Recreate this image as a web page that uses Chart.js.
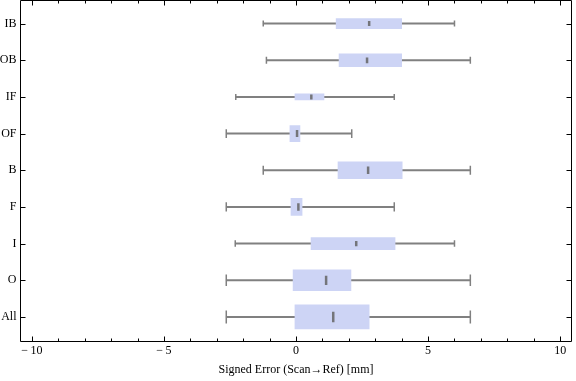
<!DOCTYPE html>
<html><head><meta charset="utf-8">
<script src="https://cdn.jsdelivr.net/npm/chart.js@4/dist/chart.umd.min.js"></script>
<style>html,body{margin:0;padding:0;background:#fff}</style>
</head><body>
<canvas id="c" width="576" height="381"></canvas>
<script>
// ---- data (top to bottom) ----
const categories    = ['IB', 'OB', 'IF', 'OF', 'B', 'F', 'I', 'O', 'All'];
const whiskerLow    = [-1.24, -1.12, -2.28, -2.64, -1.24, -2.64, -2.30, -2.64, -2.64];
const lowerQuartile = [ 1.52,  1.63, -0.04, -0.23,  1.59, -0.19,  0.57, -0.11, -0.04];
const medians       = [ 2.77,  2.69,  0.58,  0.04,  2.73,  0.09,  2.28,  1.14,  1.41];
const upperQuartile = [ 4.00,  4.00,  1.06,  0.15,  4.02,  0.23,  3.75,  2.08,  2.77];
const whiskerHigh   = [ 6.00,  6.60,  3.72,  2.11,  6.60,  3.72,  6.00,  6.60,  6.60];
const xTickValues   = [-10, -5, 0, 5, 10];
const xTitle = 'Signed Error (Scan\u2192Ref) [mm]';

// ---- styling ----
const boxThickness = [10, 13, 6, 16, 17, 17, 12, 21, 24];
const boxColor = '#CDD4F5';
const whiskerColor = '#808080';
const medianColor = 'rgba(100,100,100,0.85)';
const FONT = {family: "'Liberation Serif', 'DejaVu Serif', serif", size: 12};

const n = categories.length;
const pos = i => n - i;

const datasets = [];
// median markers (drawn on top)
datasets.push({
  type: 'scatter',
  data: categories.map((c, i) => ({x: medians[i], y: pos(i)})),
  pointStyle: 'line',
  pointRotation: 90,
  pointRadius: boxThickness.map(t => Math.max(2.5, t * 0.22)),
  pointBorderWidth: 2.5,
  pointBorderColor: medianColor,
  pointBackgroundColor: medianColor,
  pointHoverRadius: 0
});
// boxes, one dataset each so thickness can differ
categories.forEach((c, i) => {
  datasets.push({
    type: 'bar',
    data: [{x: [lowerQuartile[i], upperQuartile[i]], y: pos(i)}],
    backgroundColor: boxColor,
    borderWidth: 0,
    barThickness: boxThickness[i],
    grouped: false
  });
});
// whisker caps
const capData = [], capRadius = [];
categories.forEach((c, i) => {
  capData.push({x: whiskerLow[i], y: pos(i)}, {x: whiskerHigh[i], y: pos(i)});
  const r = Math.max(3, boxThickness[i] * 0.27);
  capRadius.push(r, r);
});
datasets.push({
  type: 'scatter',
  data: capData,
  pointStyle: 'line',
  pointRotation: 90,
  pointRadius: capRadius,
  pointBorderWidth: 1.5,
  pointBorderColor: whiskerColor,
  pointHoverRadius: 0
});
// whisker lines
datasets.push({
  type: 'bar',
  data: categories.map((c, i) => ({x: [whiskerLow[i], whiskerHigh[i]], y: pos(i)})),
  backgroundColor: whiskerColor,
  borderWidth: 0,
  barThickness: 1.3,
  grouped: false
});

const framePlugin = {
  id: 'frame',
  afterDatasetsDraw(chart) {
    const {ctx, chartArea: a, scales: {x, y}} = chart;
    ctx.save();
    ctx.strokeStyle = '#000';
    ctx.lineWidth = 1;
    ctx.beginPath();
    ctx.rect(a.left, a.top, a.right - a.left, a.bottom - a.top);
    for (let v = Math.ceil(x.min); v <= Math.floor(x.max); v++) {
      const px = Math.round(x.getPixelForValue(v)) + 0.5;
      const L = v % 5 === 0 ? 5 : 3;
      ctx.moveTo(px, a.bottom); ctx.lineTo(px, a.bottom - L);
      ctx.moveTo(px, a.top); ctx.lineTo(px, a.top + L);
    }
    categories.forEach((c, i) => {
      const py = Math.round(y.getPixelForValue(pos(i))) + 0.5;
      ctx.moveTo(a.left, py); ctx.lineTo(a.left + 5, py);
      ctx.moveTo(a.right, py); ctx.lineTo(a.right - 5, py);
    });
    ctx.stroke();
    ctx.restore();
  }
};

const noPad = () => ({left: 0, top: 0, right: 0, bottom: 0});

new Chart(document.getElementById('c'), {
  type: 'bar',
  data: {datasets},
  plugins: [framePlugin],
  options: {
    indexAxis: 'y',
    responsive: false,
    animation: false,
    devicePixelRatio: 1,
    layout: {autoPadding: false, padding: {top: 0.5, right: 4.5, left: 0, bottom: 0}},
    plugins: {legend: {display: false}, tooltip: {enabled: false}},
    scales: {
      x: {
        type: 'linear',
        offset: false,
        min: -10.43, max: 10.43,
        afterBuildTicks: s => { s.ticks = xTickValues.map(v => ({value: v})); },
        afterFit: s => { s.height = 39.5; s.paddingLeft = 0; s.paddingRight = 0; s.getPadding = noPad; },
        ticks: {
          callback: v => v < 0 ? '\u2212\u2009' + Math.abs(v) : String(v),
          font: FONT, color: '#000', padding: 2, maxRotation: 0, autoSkip: false
        },
        grid: {display: false, drawTicks: false, offset: false},
        border: {display: false},
        title: {display: true, text: xTitle, font: FONT, color: '#000', padding: {top: 0, bottom: 4}}
      },
      y: {
        type: 'linear',
        offset: false,
        min: 0.33, max: 9.63,
        afterBuildTicks: s => { s.ticks = categories.map((c, i) => ({value: pos(i)})); },
        afterFit: s => { s.width = 20.5; s.paddingTop = 0; s.paddingBottom = 0; s.getPadding = noPad; },
        ticks: {
          callback: v => categories[n - v],
          font: FONT, color: '#000', padding: 4, autoSkip: false
        },
        grid: {display: false, drawTicks: false, offset: false},
        border: {display: false}
      }
    }
  }
});
</script>
</body></html>
